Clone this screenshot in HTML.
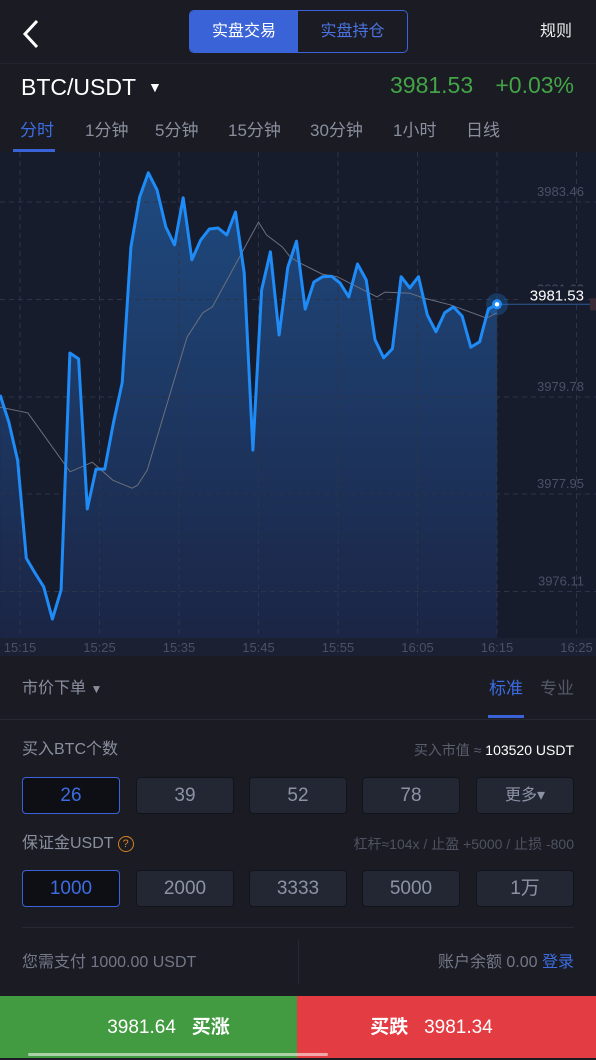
<!DOCTYPE html>
<html><head><meta charset="utf-8">
<style>
*{margin:0;padding:0;box-sizing:border-box}
body{width:596px;height:1058px;background:#1a1b23;font-family:"Liberation Sans","Noto Sans CJK SC",sans-serif;position:relative;overflow:hidden;color:#fff}
.a{position:absolute;white-space:nowrap;line-height:1.15}
.btn{position:absolute;width:98px;height:37px;background:#232734;border:1px solid #12141b;border-radius:4px;color:#8d93a5;font-size:19px;text-align:center;line-height:35px}
.btn.sel{background:#0d0f15;border:1px solid #3a63d8;color:#3d6ce0}
</style></head><body>
<div class="a" style="left:20px;top:18px;width:22px;height:32px"><svg width="22" height="32"><polyline points="17,3 5,16 17,29" fill="none" stroke="#fff" stroke-width="3"/></svg></div>
<div class="a" style="left:189px;top:10px;width:219px;height:43px;border:1px solid #3a63d8;border-radius:5px;overflow:hidden">
 <div class="a" style="left:0;top:0;width:108px;height:41px;background:#3a63d8;color:#fff;font-size:16px;text-align:center;line-height:41px">实盘交易</div>
 <div class="a" style="left:108px;top:0;width:109px;height:41px;color:#4a72e0;font-size:16px;text-align:center;line-height:41px">实盘持仓</div>
</div>
<div class="a" style="left:540px;top:23px;font-size:16px;color:#eee">规则</div>
<div class="a" style="left:0;top:63px;width:596px;height:1px;background:#23252e"></div>
<div class="a" style="left:21px;top:74px;font-size:23px;color:#fff">BTC/USDT <span style="font-size:14px;margin-left:6px;vertical-align:3px">▼</span></div>
<div class="a" style="left:390px;top:72px;font-size:23px;color:#43a447">3981.53</div>
<div class="a" style="right:22px;top:72px;font-size:23px;color:#43a447">+0.03%</div>
<div>
<div class="a" style="left:20px;top:121px;font-size:17px;color:#3d6ce0">分时</div>
<div class="a" style="left:85px;top:121px;font-size:17px;color:#8a8f9e">1分钟</div>
<div class="a" style="left:155px;top:121px;font-size:17px;color:#8a8f9e">5分钟</div>
<div class="a" style="left:228px;top:121px;font-size:17px;color:#8a8f9e">15分钟</div>
<div class="a" style="left:310px;top:121px;font-size:17px;color:#8a8f9e">30分钟</div>
<div class="a" style="left:393px;top:121px;font-size:17px;color:#8a8f9e">1小时</div>
<div class="a" style="left:466px;top:121px;font-size:17px;color:#8a8f9e">日线</div>
<div class="a" style="left:13px;top:149px;width:42px;height:3px;background:#3a63d8"></div>
</div>
<svg class="a" id="chart" style="left:0;top:152px" width="596" height="504"></svg>

<div class="a" style="left:22px;top:680px;font-size:16px;color:#8a8f9e">市价下单 <span style="font-size:12px">▼</span></div>
<div class="a" style="left:489px;top:679px;font-size:17px;color:#3d6ce0">标准</div>
<div class="a" style="left:540px;top:679px;font-size:17px;color:#535868">专业</div>
<div class="a" style="left:488px;top:715px;width:36px;height:3px;background:#3a63d8"></div>
<div class="a" style="left:0;top:719px;width:596px;height:1px;background:#262833"></div>
<div class="a" style="left:22px;top:741px;font-size:16px;color:#8a8f9e">买入BTC个数</div>
<div class="a" style="right:22px;top:742px;font-size:14px;color:#5a5f6e">买入市值 ≈ <span style="color:#fff">103520 USDT</span></div>
<div class="btn sel" style="left:22px;top:777px">26</div>
<div class="btn" style="left:136px;top:777px">39</div>
<div class="btn" style="left:249px;top:777px">52</div>
<div class="btn" style="left:362px;top:777px">78</div>
<div class="btn" style="left:476px;top:777px;font-size:16px">更多▾</div>
<div class="a" style="left:22px;top:835px;font-size:16px;color:#8a8f9e">保证金USDT <span style="display:inline-block;width:16px;height:16px;border:1px solid #d7831f;border-radius:50%;color:#d7831f;font-size:11px;text-align:center;line-height:14px;vertical-align:1px">?</span></div>
<div class="a" style="right:22px;top:836px;font-size:14px;color:#4e5362">杠杆≈104x / 止盈 +5000 / 止损 -800</div>
<div class="btn sel" style="left:22px;top:870px">1000</div>
<div class="btn" style="left:136px;top:870px">2000</div>
<div class="btn" style="left:249px;top:870px">3333</div>
<div class="btn" style="left:362px;top:870px">5000</div>
<div class="btn" style="left:476px;top:870px">1万</div>
<div class="a" style="left:22px;top:927px;width:552px;height:1px;background:#262833"></div>
<div class="a" style="left:22px;top:954px;font-size:16px;color:#737888">您需支付 1000.00 USDT</div>
<div class="a" style="left:298px;top:940px;width:1px;height:45px;background:#262833"></div>
<div class="a" style="right:22px;top:954px;font-size:16px;color:#737888">账户余额 0.00 <span style="color:#3d6ce0">登录</span></div>
<div class="a" style="left:0;top:996px;width:297px;height:62px;background:#429b40;font-size:19px;line-height:64px;text-align:center;padding-left:40px">3981.64 &nbsp;&nbsp;<b>买涨</b></div>
<div class="a" style="left:297px;top:996px;width:299px;height:62px;background:#e33c43;font-size:19px;line-height:64px;text-align:center;padding-right:30px"><b>买跌</b> &nbsp;&nbsp;3981.34</div>
<div class="a" style="left:28px;top:1053px;width:300px;height:3px;background:rgba(255,255,255,.55);border-radius:2px"></div>

<script>
const priceValues=[3979.82,3979.31,3978.59,3976.74,3976.46,3976.20,3975.59,3976.14,3980.61,3980.50,3977.67,3978.42,3978.42,3979.29,3980.05,3982.61,3983.55,3984.01,3983.69,3982.99,3982.65,3983.54,3982.37,3982.74,3982.95,3982.97,3982.84,3983.27,3982.12,3978.78,3981.80,3982.52,3980.95,3982.23,3982.72,3981.44,3981.95,3982.05,3982.06,3981.93,3981.67,3982.29,3981.99,3980.86,3980.52,3980.69,3982.05,3981.84,3982.05,3981.33,3981.01,3981.37,3981.48,3981.31,3980.72,3980.82,3981.44,3981.53];
const priceStartMin=-2.5, priceEndMin=60;
const maMinutes=[-2.5,1,6.3,9.1,11.7,14.1,14.8,16,21,23,24.2,30,31,33,34,35.2,38,39.9,44.9,45.9,49,50.7,54.1,58.7,60];
const maValues=[3979.59,3979.48,3978.37,3978.55,3978.21,3978.06,3978.12,3978.40,3980.91,3981.37,3981.48,3983.08,3982.84,3982.61,3982.42,3982.31,3982.10,3982.05,3981.67,3981.76,3981.74,3981.65,3981.52,3981.27,3981.37];
const yTicks=[3983.46,3981.62,3979.78,3977.95,3976.11];
const xTicks=["15:15","15:25","15:35","15:45","15:55","16:05","16:15","16:25"];
const lastPrice=3981.53;

const NS="http://www.w3.org/2000/svg";
const svg=document.getElementById('chart');
const plotH=486;
const x=m=>20+m*7.95;
const y=p=>50+(3983.46-p)*53.0;
function mk(t,a,p){const e=document.createElementNS(NS,t);for(const k in a)e.setAttribute(k,a[k]);(p||svg).appendChild(e);return e;}
const defs=mk('defs',{});
const g=mk('linearGradient',{id:'fill',x1:0,y1:0,x2:0,y2:1},defs);
mk('stop',{offset:'0','stop-color':'#1f4a80'},g);mk('stop',{offset:'1','stop-color':'#1b2545'},g);
const bg=mk('rect',{x:0,y:0,width:596,height:plotH,fill:'#171c2d'});

const ax=mk('rect',{x:0,y:plotH,width:596,height:18,fill:'#1b2033'});

const n=priceValues.length;
const px=i=>x(priceStartMin+(priceEndMin-priceStartMin)*i/(n-1));
let d='';priceValues.forEach((v,i)=>{d+=(i?'L':'M')+px(i).toFixed(1)+','+y(v).toFixed(1);});
const area=mk('path',{d:d+`L${px(n-1)},${plotH}L${px(0)},${plotH}Z`,fill:'url(#fill)'});

yTicks.forEach(v=>{const l=mk('line',{x1:0,x2:596,y1:y(v),y2:y(v),stroke:'#2c3449','stroke-dasharray':'5,4'});
});
xTicks.forEach((t,i)=>{const xx=x(i*10);const l=mk('line',{x1:xx,x2:xx,y1:0,y2:plotH,stroke:'#2c3449','stroke-dasharray':'5,4'});

const tx=mk('text',{x:xx,y:plotH+14,fill:'#4a5166','font-size':13,'text-anchor':'middle'});tx.textContent=t;
});
yTicks.forEach(v=>{const tx=mk('text',{x:584,y:y(v)-6,fill:'#4a5166','font-size':13,'text-anchor':'end'});tx.textContent=v.toFixed(2);
});
let md='';maMinutes.forEach((m,i)=>{md+=(i?'L':'M')+x(m).toFixed(1)+','+y(maValues[i]).toFixed(1);});
const ma=mk('path',{d:md,fill:'none',stroke:'#6b6f7c','stroke-width':1});

const pl=mk('path',{d:d,fill:'none',stroke:'#1e8bf7','stroke-width':3,'stroke-linejoin':'round'});

const ly=y(lastPrice), lx=px(n-1);
const ll=mk('line',{x1:lx,x2:596,y1:ly,y2:ly,stroke:'#2d5a96','stroke-width':1});

const lt=mk('rect',{x:590,y:ly-6,width:6,height:12,fill:'#3a2a35'});

const halo=mk('circle',{cx:lx,cy:ly,r:11,fill:'rgba(30,139,247,.25)'});

const dot=mk('circle',{cx:lx,cy:ly,r:5,fill:'#1e8bf7'});

mk('circle',{cx:lx,cy:ly,r:2.2,fill:'#fff'});
const lbg=mk('rect',{x:518,y:ly-18,width:70,height:17,fill:'#171c2d'});

const lab=mk('text',{x:584,y:ly-4,fill:'#fff','font-size':15,'text-anchor':'end'});lab.textContent=lastPrice.toFixed(2);

</script>
</body></html>
